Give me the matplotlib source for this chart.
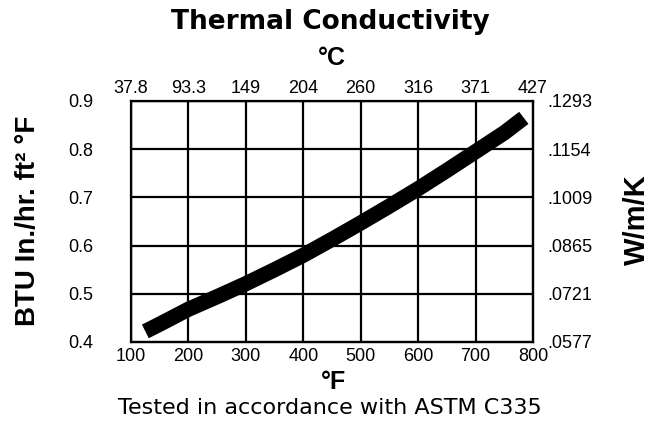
import matplotlib
matplotlib.use("Agg")
import matplotlib.pyplot as plt

# Data
temp_f = [125, 150, 200, 250, 300, 350, 400, 450, 500, 550, 600, 650, 700, 750, 784]
k_btu = [0.422, 0.437, 0.468, 0.494, 0.521, 0.550, 0.580, 0.613, 0.647, 0.682, 0.718, 0.756, 0.795, 0.834, 0.865]
f_ticks = [100, 200, 300, 400, 500, 600, 700, 800]
c_labels = ["37.8", "93.3", "149", "204", "260", "316", "371", "427"]
y_ticks = [0.4, 0.5, 0.6, 0.7, 0.8, 0.9]
y_labels = ["0.4", "0.5", "0.6", "0.7", "0.8", "0.9"]
w_labels = [".0577", ".0721", ".0865", ".1009", ".1154", ".1293"]

tick_font = "Liberation Sans"

fig = plt.figure(figsize=(6.61, 4.23), dpi=100)
ax = fig.add_axes([131/661, 1-342/423, 402/661, 241/423])
ax.plot(temp_f, k_btu, color="black", lw=11, solid_capstyle="butt", solid_joinstyle="round")
ax.set_xlim(100, 800)
ax.set_ylim(0.4, 0.9)
ax.set_xticks(f_ticks)
ax.set_xticklabels([str(v) for v in f_ticks], family=tick_font, fontsize=13)
ax.set_yticks(y_ticks)
ax.set_yticklabels(y_labels, family=tick_font, fontsize=13)
ax.grid(True, color="black", lw=1.6)
ax.tick_params(axis="x", length=0, pad=4)
ax.tick_params(axis="y", length=0, pad=27)
for s in ax.spines.values():
    s.set_linewidth(1.6)

axt = ax.twiny()
axt.set_xlim(100, 800)
axt.set_xticks(f_ticks)
axt.set_xticklabels(c_labels, family=tick_font, fontsize=13)
axt.tick_params(length=0, pad=3)

axr = ax.twinx()
axr.set_ylim(0.4, 0.9)
axr.set_yticks(y_ticks)
axr.set_yticklabels(w_labels, family=tick_font, fontsize=13)
axr.tick_params(length=0, pad=10)

fig.text(0.5, 1-22/423, "Thermal Conductivity", ha="center", va="center",
         fontsize=19, fontweight="bold", family="DejaVu Sans")
fig.text(332/661, 1-58/423, "°C", ha="center", va="center",
         fontsize=18, fontweight="bold", family="Liberation Sans")
fig.text(333/661, 1-382/423, "°F", ha="center", va="center",
         fontsize=18, fontweight="bold", family="Liberation Sans")
fig.text(330/661, 1-408/423, "Tested in accordance with ASTM C335", ha="center", va="center",
         fontsize=16, family="DejaVu Sans")
fig.text(28/661, 1-221/423, "BTU In./hr. ft² °F", ha="center", va="center", rotation=90,
         fontsize=20, fontweight="bold", family="Liberation Sans")
fig.text(637/661, 1-220/423, "W/m/K", ha="center", va="center", rotation=90,
         fontsize=21, fontweight="bold", family="Liberation Sans")

fig.savefig("out.png", dpi=100)
